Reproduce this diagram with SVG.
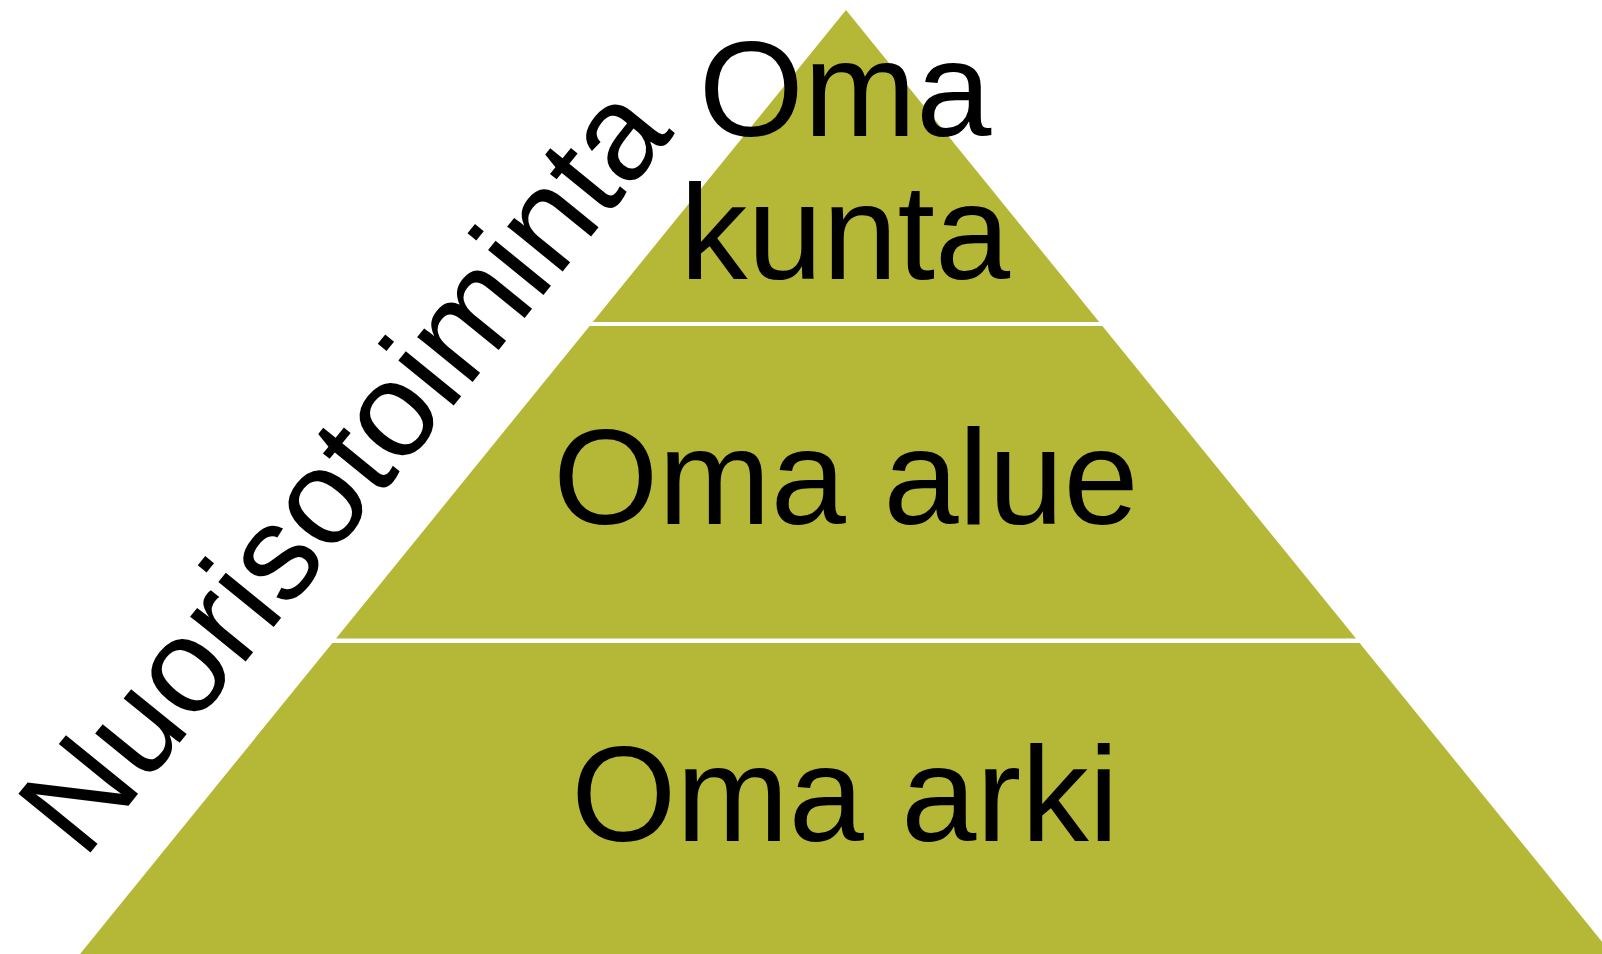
<svg xmlns="http://www.w3.org/2000/svg" width="1602" height="954" viewBox="0 0 1602 954">
  <style>
    .lvl { fill: #B5B836; }
    .t { font-family: "Liberation Sans", Arial, sans-serif; font-size: 135px; fill: #000000; }
    .c { text-anchor: middle; }
  </style>
  <rect x="0" y="0" width="1602" height="954" fill="#FFFFFF"/>
  <g id="level-top">
    <polygon class="lvl" points="846,10 1099.2,322 592.8,322"/>
  </g>
  <g id="level-middle">
    <polygon class="lvl" points="589.6,326 1102.4,326 1356,638.5 336,638.5"/>
  </g>
  <g id="level-bottom">
    <polygon class="lvl" points="332.4,643 1359.6,643 1612,954 80,954"/>
  </g>
  <g id="label-top">
    <text class="t c" x="845" y="136">Oma</text>
    <text class="t c" x="845" y="279">kunta</text>
  </g>
  <g id="label-middle">
    <text class="t c" x="846" y="524">Oma alue</text>
  </g>
  <g id="label-bottom">
    <text class="t c" x="845" y="841">Oma arki</text>
  </g>
  <g id="side-label">
    <text class="t" transform="translate(83.5,861) rotate(-50.9)">Nuorisotoiminta</text>
  </g>
</svg>
